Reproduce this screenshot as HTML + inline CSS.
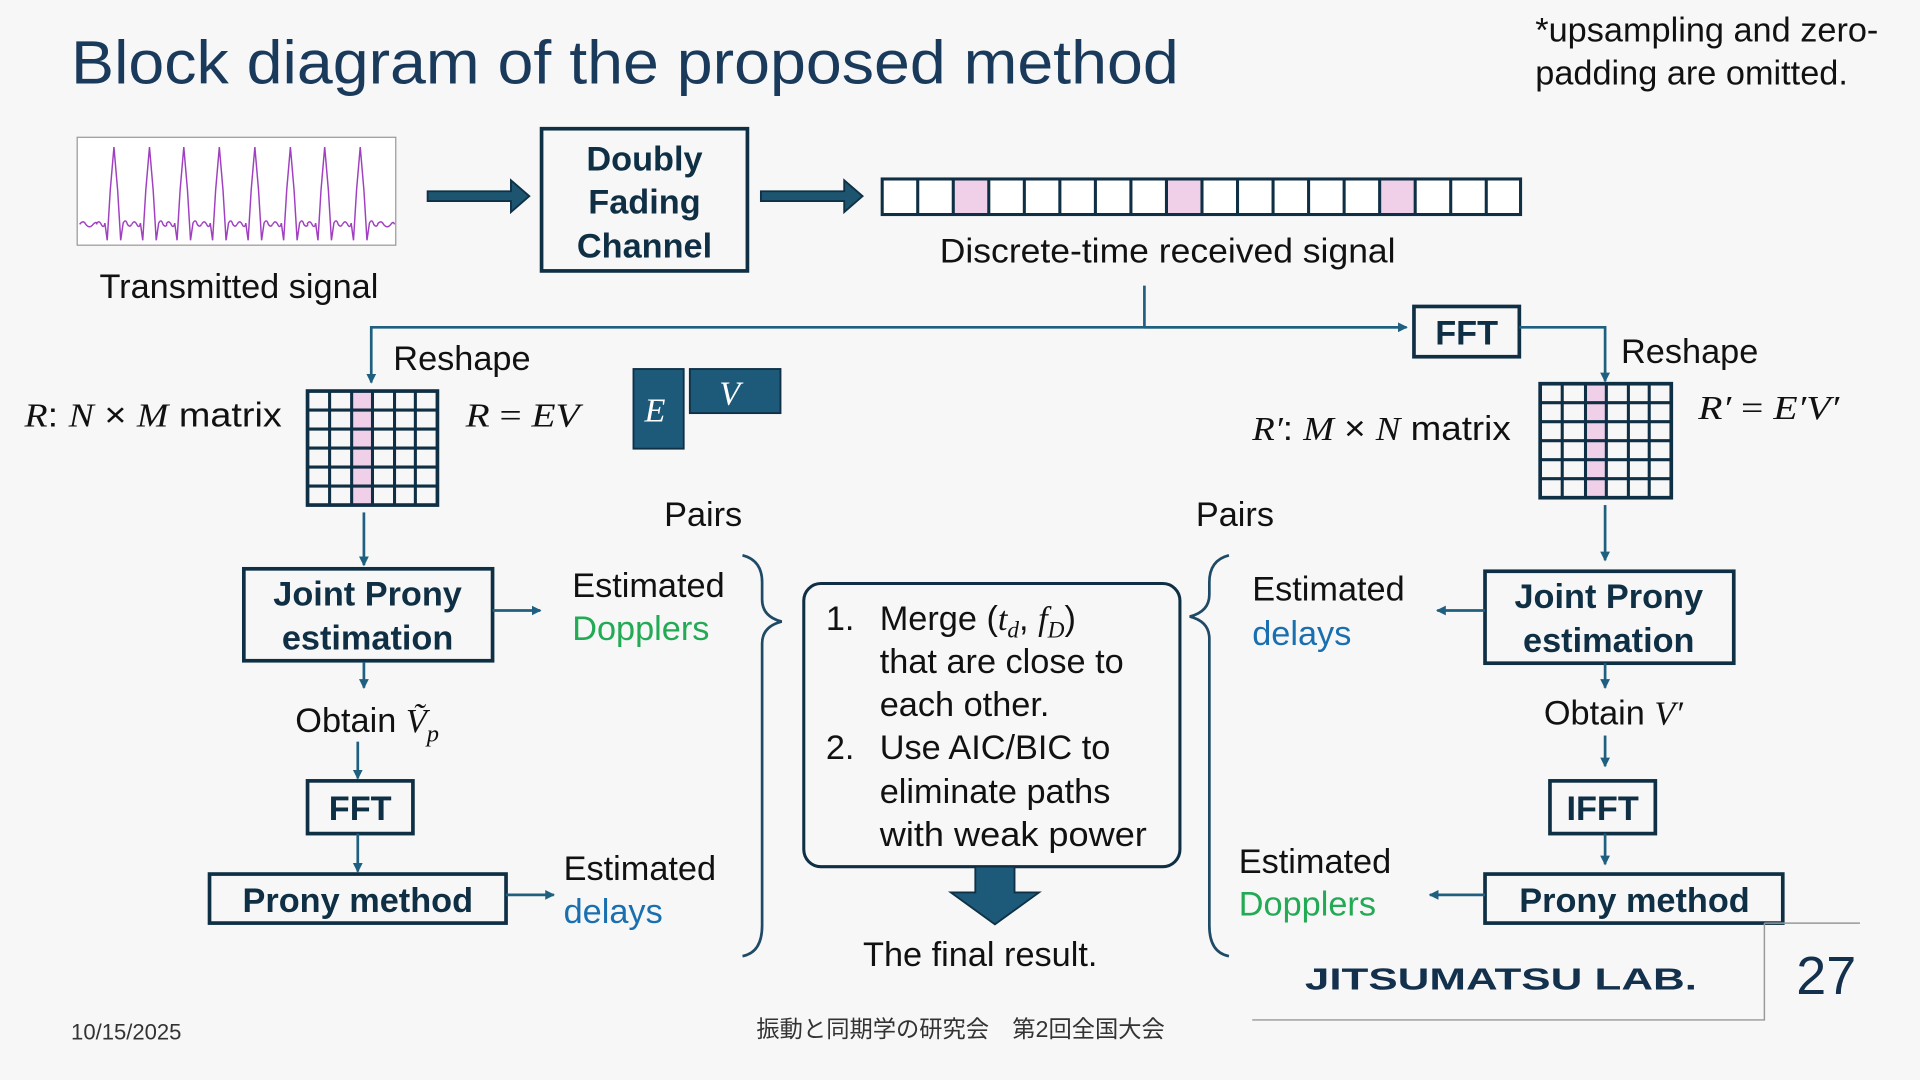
<!DOCTYPE html>
<html><head><meta charset="utf-8"><style>
html,body{margin:0;padding:0;background:#f7f7f7;}
svg{display:block;}
text{font-family:"Liberation Sans","Noto Sans CJK JP",sans-serif;fill:#111;}
.t{font-size:28px;}
.b{font-weight:bold;fill:#0f2f45;font-size:28px;}
.m{font-family:"Liberation Serif",serif;font-style:italic;font-size:28px;}
.ln{stroke:#1f6080;stroke-width:2.2;fill:none;}
.bx{fill:none;stroke:#0f2f45;stroke-width:3;}
</style></head><body>
<svg width="1920" height="1080" viewBox="0 0 1567 881" preserveAspectRatio="none" xmlns="http://www.w3.org/2000/svg">
<defs>
<marker id="ah" markerWidth="8" markerHeight="8" refX="7" refY="4" orient="auto" markerUnits="userSpaceOnUse"><path d="M0,0 L8,4 L0,8 z" fill="#1f6080"/></marker>
<path id="pk" d="M-14.4,183 q2,-4 4,0 q2,4 3,-1 L-5.5,196 L-3,155 L0,120 L3,155 L5.5,196 L7.5,182 q2,-4 3.5,1 q2,3 3.4,0" fill="none" stroke="#a040c0" stroke-width="1.2"/>
</defs>
<rect width="1567" height="881" fill="#f7f7f7"/>
<text x="58" y="68" textLength="904" lengthAdjust="spacingAndGlyphs" style="font-size:50px;fill:#1a3a5c">Block diagram of the proposed method</text>
<text x="1253" y="34" class="t">*upsampling and zero-</text>
<text x="1253" y="69" class="t">padding are omitted.</text>

<!-- signal -->
<rect x="63" y="112" width="260" height="88" fill="#fff" stroke="#999" stroke-width="1"/>
<path d="M65,183 q3,-4 5,0 q3,4 6,0 q3,-3 3,0" fill="none" stroke="#a040c0" stroke-width="1.2"/>
<path d="M308,183 q3,-4 5,0 q3,4 6,0 q2,-3 3,0" fill="none" stroke="#a040c0" stroke-width="1.2"/>
<g>
<use href="#pk" x="93"/><use href="#pk" x="122"/><use href="#pk" x="150"/><use href="#pk" x="179"/><use href="#pk" x="208"/><use href="#pk" x="237"/><use href="#pk" x="265"/><use href="#pk" x="294"/>
</g>
<text x="195" y="243" class="t" text-anchor="middle">Transmitted signal</text>

<!-- thick arrows -->
<path d="M349,156 h68 v-9 l15,13 l-15,13 v-9 h-68 z" fill="#1d5570" stroke="#0f3045" stroke-width="1.5"/>
<path d="M621,156 h68 v-9 l15,13 l-15,13 v-9 h-68 z" fill="#1d5570" stroke="#0f3045" stroke-width="1.5"/>

<rect x="442" y="105" width="168" height="116" class="bx"/>
<text x="526" y="139" class="b" text-anchor="middle">Doubly</text>
<text x="526" y="174" class="b" text-anchor="middle">Fading</text>
<text x="526" y="210" class="b" text-anchor="middle">Channel</text>

<!-- strip -->
<rect x="720" y="146" width="521" height="29" fill="#fff"/>
<rect x="778" y="146" width="29" height="29" fill="#f0cfe8"/>
<rect x="952" y="146" width="29" height="29" fill="#f0cfe8"/>
<rect x="1126" y="146" width="29" height="29" fill="#f0cfe8"/>
<g stroke="#0f2f45" stroke-width="2.5">
<path d="M749,146v29M778,146v29M807,146v29M836,146v29M865,146v29M894,146v29M923,146v29M952,146v29M981,146v29M1010,146v29M1039,146v29M1068,146v29M1097,146v29M1126,146v29M1155,146v29M1184,146v29M1213,146v29"/>
<rect x="720" y="146" width="521" height="29" fill="none"/>
</g>
<text x="953" y="214" class="t" text-anchor="middle" textLength="372" lengthAdjust="spacingAndGlyphs">Discrete-time received signal</text>

<!-- split lines -->
<path d="M934,233 V267" class="ln"/>
<path d="M1146,267 H303 V312" class="ln" marker-end="url(#ah)"/>
<path d="M934,267 H1148" class="ln" marker-end="url(#ah)"/>
<rect x="1154" y="250" width="86" height="41" class="bx"/>
<text x="1197" y="281" class="b" text-anchor="middle">FFT</text>
<path d="M1240,267 H1310 V311" class="ln" marker-end="url(#ah)"/>
<text x="321" y="302" class="t">Reshape</text>
<text x="1323" y="296" class="t">Reshape</text>

<!-- left matrix -->
<rect x="287" y="319" width="17" height="93" fill="#f0cfe8"/>
<g stroke="#0f2f45" stroke-width="2.5" fill="none">
<rect x="251" y="319" width="106" height="93" stroke-width="3"/>
<path d="M269,319v93M287,319v93M304,319v93M322,319v93M339,319v93M251,334.5h106M251,350h106M251,365.5h106M251,381h106M251,396.5h106"/>
</g>
<text x="20" y="348" class="t" textLength="210" lengthAdjust="spacingAndGlyphs"><tspan class="m">R</tspan>:  <tspan class="m">N</tspan> × <tspan class="m">M</tspan> matrix</text>
<text x="380" y="348" class="m" textLength="93" lengthAdjust="spacingAndGlyphs">R <tspan style="font-style:normal">=</tspan> EV</text>
<rect x="517" y="301" width="41" height="65" fill="#1d5a7a" stroke="#0f3045" stroke-width="1.5"/>
<rect x="563" y="301" width="74" height="36" fill="#1d5a7a" stroke="#0f3045" stroke-width="1.5"/>
<text x="526" y="344" class="m" style="fill:#fff;font-size:28px">E</text>
<text x="587" y="330" class="m" style="fill:#fff;font-size:28px">V</text>

<!-- right matrix -->
<rect x="1294" y="313" width="17" height="93" fill="#f0cfe8"/>
<g stroke="#0f2f45" stroke-width="2.5" fill="none">
<rect x="1257" y="313" width="107" height="93" stroke-width="3"/>
<path d="M1275,313v93M1294,313v93M1311,313v93M1329,313v93M1346,313v93M1257,328.5h107M1257,344h107M1257,359.5h107M1257,375h107M1257,390.5h107"/>
</g>
<text x="1022" y="359" class="t" textLength="211" lengthAdjust="spacingAndGlyphs"><tspan class="m">R′</tspan>: <tspan class="m">M</tspan> × <tspan class="m">N</tspan> matrix</text>
<text x="1386" y="342" class="m" textLength="115" lengthAdjust="spacingAndGlyphs">R′ <tspan style="font-style:normal">=</tspan> E′V′</text>

<!-- left chain -->
<path d="M297,418 V461" class="ln" marker-end="url(#ah)"/>
<rect x="199" y="464" width="203" height="75" class="bx"/>
<text x="300" y="494" class="b" text-anchor="middle">Joint Prony</text>
<text x="300" y="530" class="b" text-anchor="middle">estimation</text>
<path d="M402,498 H441" class="ln" marker-end="url(#ah)"/>
<text x="467" y="487" class="t">Estimated</text>
<text x="467" y="522" class="t" style="fill:#22aa55">Dopplers</text>
<path d="M297,540 V561" class="ln" marker-end="url(#ah)"/>
<text x="241" y="597" class="t">Obtain  <tspan class="m">Ṽ</tspan><tspan class="m" style="font-size:20px" dy="8">p</tspan></text>
<path d="M292,605 V635" class="ln" marker-end="url(#ah)"/>
<rect x="251" y="637" width="86" height="43" class="bx"/>
<text x="294" y="669" class="b" text-anchor="middle">FFT</text>
<path d="M292,680 V711" class="ln" marker-end="url(#ah)"/>
<rect x="171" y="713" width="242" height="40" class="bx"/>
<text x="292" y="744" class="b" text-anchor="middle">Prony method</text>
<path d="M413,730 H452" class="ln" marker-end="url(#ah)"/>
<text x="460" y="718" class="t">Estimated</text>
<text x="460" y="753" class="t" style="fill:#1a6fb0">delays</text>

<text x="542" y="429" class="t">Pairs</text>
<path d="M606,453 q16,4 16,22 v14 q0,14 16,18 q-16,4 -16,18 v230 q0,22 -16,25" fill="none" stroke="#1f4a66" stroke-width="2.2"/>

<!-- center box -->
<rect x="656" y="476" width="307" height="231" rx="14" fill="none" stroke="#0f2f45" stroke-width="2.5"/>
<text x="674" y="514" class="t">1.</text>
<text x="718" y="514" class="t">Merge (<tspan class="m">t</tspan><tspan class="m" style="font-size:19px" dy="6">d</tspan><tspan dy="-6">, </tspan><tspan class="m">f</tspan><tspan class="m" style="font-size:19px" dy="6">D</tspan><tspan dy="-6">)</tspan></text>
<text x="718" y="549" class="t">that are close to</text>
<text x="718" y="584" class="t">each other.</text>
<text x="674" y="619" class="t">2.</text>
<text x="718" y="619" class="t">Use AIC/BIC to</text>
<text x="718" y="655" class="t">eliminate paths</text>
<text x="718" y="690" class="t" textLength="218" lengthAdjust="spacingAndGlyphs">with weak power</text>
<path d="M796,707 h32 v21 h20 l-36,26 l-36,-26 h20 z" fill="#1d5a7a" stroke="#0f3045" stroke-width="1.5"/>
<text x="800" y="788" class="t" text-anchor="middle">The final result.</text>

<text x="976" y="429" class="t">Pairs</text>
<path d="M1003,453 q-16,4 -16,22 v10 q0,14 -16,18 q16,4 16,18 v234 q0,22 16,25" fill="none" stroke="#1f4a66" stroke-width="2.2"/>

<!-- right chain -->
<path d="M1310,412 V457" class="ln" marker-end="url(#ah)"/>
<rect x="1212" y="466" width="203" height="75" class="bx"/>
<text x="1313" y="496" class="b" text-anchor="middle">Joint Prony</text>
<text x="1313" y="532" class="b" text-anchor="middle">estimation</text>
<path d="M1212,498 H1173" class="ln" marker-end="url(#ah)"/>
<text x="1022" y="490" class="t">Estimated</text>
<text x="1022" y="526" class="t" style="fill:#1a6fb0">delays</text>
<path d="M1310,541 V561" class="ln" marker-end="url(#ah)"/>
<text x="1260" y="591" class="t">Obtain <tspan class="m">V′</tspan></text>
<path d="M1310,600 V625" class="ln" marker-end="url(#ah)"/>
<rect x="1265" y="637" width="86" height="43" class="bx"/>
<text x="1308" y="669" class="b" text-anchor="middle">IFFT</text>
<path d="M1310,680 V705" class="ln" marker-end="url(#ah)"/>
<rect x="1212" y="713" width="243" height="40" class="bx"/>
<text x="1334" y="744" class="b" text-anchor="middle">Prony method</text>
<path d="M1212,730 H1167" class="ln" marker-end="url(#ah)"/>
<text x="1011" y="712" class="t">Estimated</text>
<text x="1011" y="747" class="t" style="fill:#22aa55">Dopplers</text>

<!-- footer -->
<path d="M1440,753 H1518 M1440,753 V832 H1022" stroke="#999" stroke-width="1.2" fill="none"/>
<text x="1065" y="807" textLength="320" lengthAdjust="spacingAndGlyphs" style="font-size:25px;font-weight:bold;fill:#13304d">JITSUMATSU LAB.</text>
<text x="1466" y="811" style="font-size:44px;fill:#13304d">27</text>
<text x="58" y="848" style="font-size:18px;fill:#333">10/15/2025</text>
<text x="784" y="846" text-anchor="middle" style="font-size:19px;fill:#333">振動と同期学の研究会　第2回全国大会</text>
</svg>
</body></html>
